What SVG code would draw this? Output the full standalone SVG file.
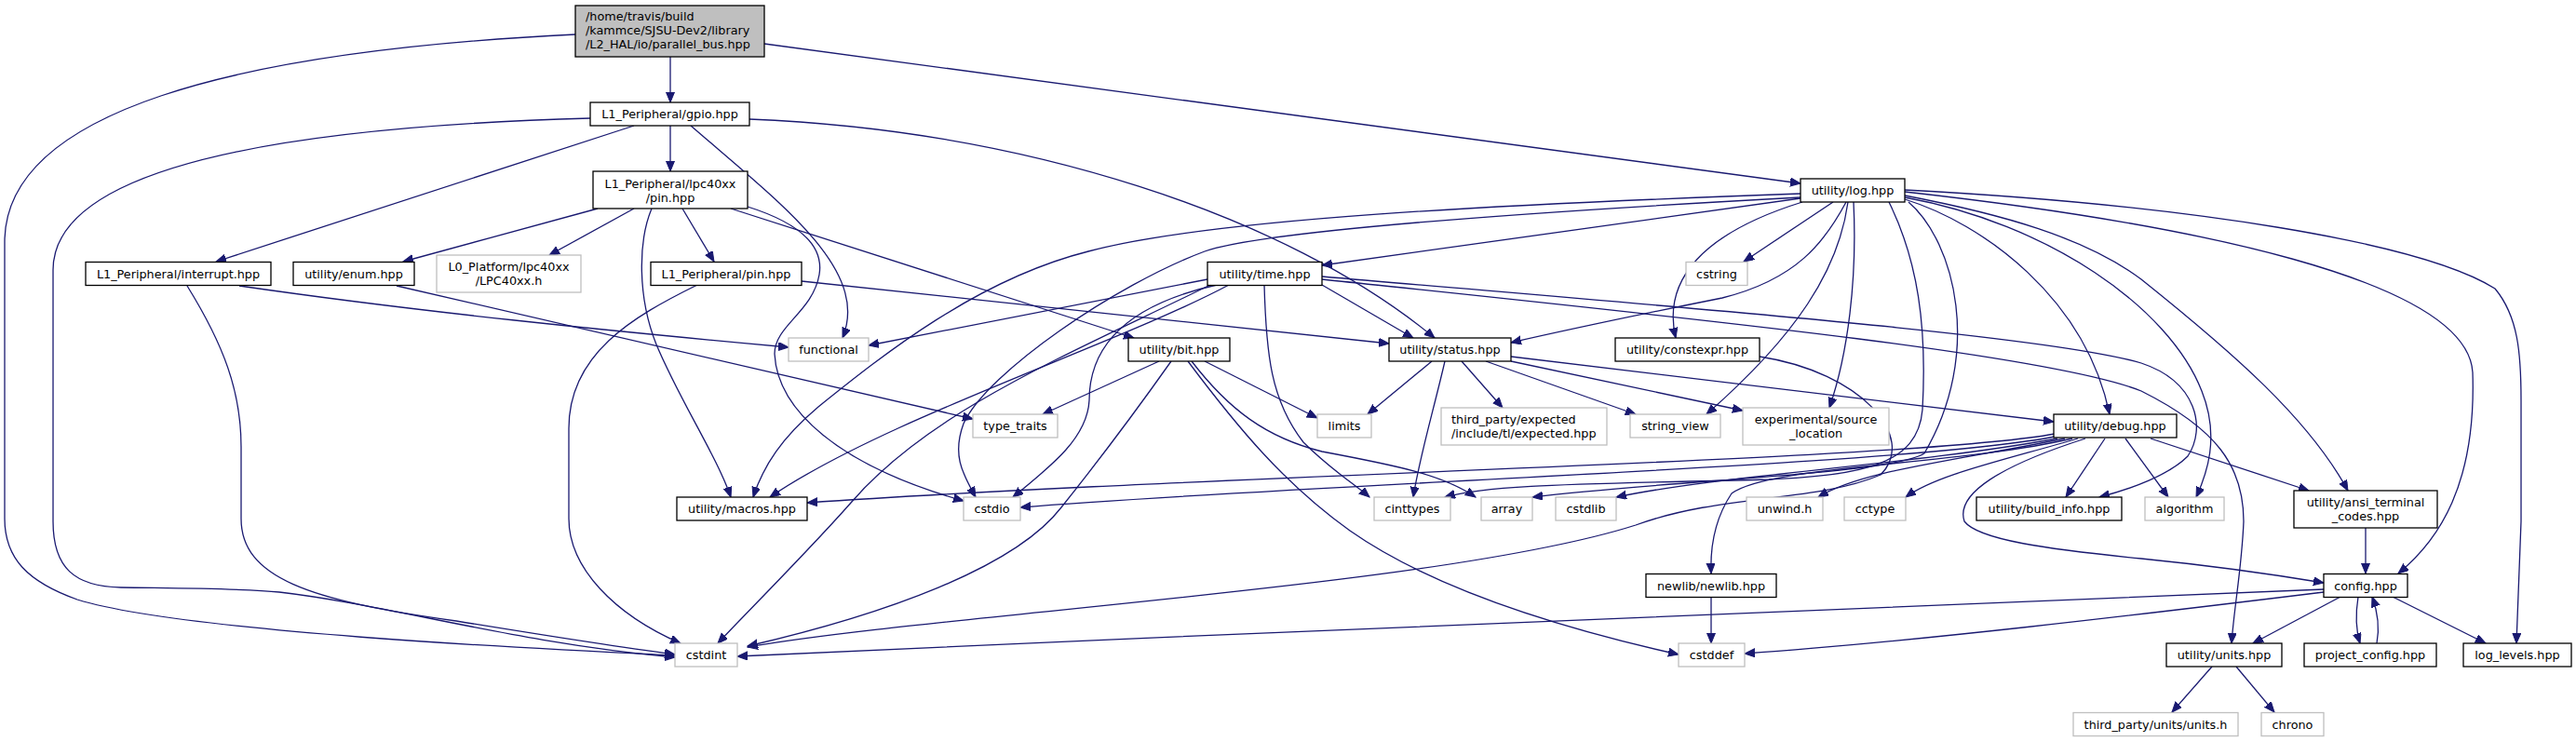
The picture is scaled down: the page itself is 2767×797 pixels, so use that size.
<svg xmlns="http://www.w3.org/2000/svg" width="2767" height="797" viewBox="0 0 2767 797">
<style>
.n rect{fill:#fff;stroke:#000;stroke-width:1.3}
.g rect{fill:#fff;stroke:#bfbfbf;stroke-width:1.3}
.r rect{fill:#bfbfbf;stroke:#000;stroke-width:1.3}
text{font-family:"DejaVu Sans","Liberation Sans",sans-serif;font-size:12.8px;fill:#000;text-anchor:middle}
text.l{text-anchor:start}
#edges path{fill:none;stroke:#191970;stroke-width:1.3;marker-end:url(#ah)}
</style>
<defs>
<marker id="ah" markerWidth="12" markerHeight="10" refX="11" refY="4.5" orient="auto" markerUnits="userSpaceOnUse"><path d="M0,0 L11,4.5 L0,9 z" fill="#191970" stroke="#191970" stroke-width="1"/></marker>
</defs>
<rect x="0" y="0" width="2767" height="797" fill="#fff"/>
<g id="edges">
<path d="M720,61 L720,110"/>
<path d="M821,47 L1934,197"/>
<path d="M618,37 C250,55 5,120 5,260 L5,557 C5,600 30,625 83,644 C200,680 600,698 725,704"/>
<path d="M720,135 L720,184"/>
<path d="M681,135 L232,281"/>
<path d="M742,135 C840,220 935,290 905,363"/>
<path d="M805,128 C1100,140 1380,230 1541,363"/>
<path d="M634,127 C350,135 57,170 57,290 L57,560 C57,610 80,630 130,631 C200,632 260,632 300,636 C420,650 550,690 725,706"/>
<path d="M642,224 L433,281"/>
<path d="M681,224 L590,274"/>
<path d="M700,224 C685,260 685,320 705,370 C730,430 770,490 785,534"/>
<path d="M733,224 L767,281"/>
<path d="M785,224 L1218,363"/>
<path d="M803,222 C860,240 885,265 880,295 C873,335 832,350 832,380 C835,440 900,500 1035,538"/>
<path d="M257,307 C450,335 650,355 847,373"/>
<path d="M201,307 C240,370 259,420 259,480 L259,557 C259,620 330,645 490,667 C600,685 680,697 725,703"/>
<path d="M426,307 L1045,450"/>
<path d="M861,302 L1492,369"/>
<path d="M749,306 C680,340 611,380 611,460 L611,557 C611,610 660,660 731,691"/>
<path d="M1297,300 L933,371"/>
<path d="M1320,306 C1200,370 950,450 827,534"/>
<path d="M1307,306 C1200,330 1170,380 1170,430 C1168,470 1130,500 1088,534"/>
<path d="M1300,306 C1150,380 1000,440 914,540 C870,590 800,660 771,691"/>
<path d="M1420,306 L1518,363"/>
<path d="M1358,306 C1360,380 1365,430 1400,475 C1430,505 1455,520 1471,534"/>
<path d="M1420,297 C1800,330 2200,360 2300,390 C2360,410 2370,460 2350,490 C2330,510 2290,525 2255,534"/>
<path d="M1420,300 C1800,340 2200,380 2300,420 C2380,460 2410,500 2410,560 C2408,610 2400,650 2397,691"/>
<path d="M1245,388 L1120,445"/>
<path d="M1294,388 L1415,449"/>
<path d="M1280,388 C1320,440 1360,470 1420,485 C1500,500 1550,510 1585,534"/>
<path d="M1276,388 C1330,460 1380,520 1450,570 C1550,640 1700,680 1803,703"/>
<path d="M1258,388 C1200,470 1160,520 1140,545 C1090,610 950,660 803,694"/>
<path d="M1538,388 L1469,445"/>
<path d="M1552,388 C1540,440 1525,490 1518,534"/>
<path d="M1570,388 L1614,438"/>
<path d="M1596,388 L1757,445"/>
<path d="M1623,388 L1872,441"/>
<path d="M1623,383 L2206,453"/>
<path d="M1934,213 L1420,285"/>
<path d="M1983,217 C1960,260 1930,300 1850,320 C1750,340 1680,355 1623,368"/>
<path d="M1936,217 C1830,250 1785,300 1800,363"/>
<path d="M1969,217 L1873,281"/>
<path d="M1985,217 C1975,290 1930,360 1833,445"/>
<path d="M1991,217 C1995,300 1985,380 1965,438"/>
<path d="M2046,214 C2130,240 2240,320 2266,445"/>
<path d="M2046,212 C2200,240 2330,330 2365,420 C2385,470 2370,510 2359,534"/>
<path d="M2046,210 C2150,230 2240,255 2300,300 C2400,380 2480,450 2522,527"/>
<path d="M2046,206 C2350,240 2650,300 2656,400 C2660,520 2620,580 2576,616"/>
<path d="M2046,204 C2350,220 2600,260 2680,310 C2705,340 2708,380 2708,430 L2708,560 C2706,620 2704,660 2703,691"/>
<path d="M1934,208 C1600,220 1300,235 1169,270 C1050,300 950,380 879,437 C840,470 820,500 809,534"/>
<path d="M1934,212 C1600,230 1350,250 1294,270 C1200,305 1060,400 1035,455 C1022,490 1035,510 1048,534"/>
<path d="M2029,217 C2060,280 2070,350 2065,440 C2060,500 2000,510 1900,515 C1700,520 1600,520 1552,534"/>
<path d="M2050,217 C2100,260 2130,380 2067,487 C2030,510 1800,515 1646,534"/>
<path d="M1890,383 C2000,400 2060,470 2020,510 C1950,540 1850,530 1757,564 C1550,630 1000,660 803,695"/>
<path d="M2207,466 C2050,495 1300,510 867,540"/>
<path d="M2207,469 C2050,500 1400,520 1096,545"/>
<path d="M2210,471 C2050,500 1850,510 1736,534"/>
<path d="M2218,471 C2100,495 2000,505 1953,534"/>
<path d="M2232,471 C2150,495 2080,510 2047,534"/>
<path d="M2261,471 L2219,534"/>
<path d="M2283,471 L2329,534"/>
<path d="M2310,471 L2480,527"/>
<path d="M2226,471 C2100,500 1900,500 1860,530 C1840,560 1837,590 1838,616"/>
<path d="M2240,471 C2150,500 2100,530 2110,560 C2125,580 2200,590 2300,600 C2400,610 2460,620 2496,626"/>
<path d="M2541,567 L2541,616"/>
<path d="M2514,641 L2420,691"/>
<path d="M2533,641 C2530,660 2530,675 2535,691"/>
<path d="M2553,691 C2556,675 2555,660 2548,641"/>
<path d="M2570,641 L2670,691"/>
<path d="M2496,633 C2100,648 1400,677 792,705"/>
<path d="M2496,636 C2300,660 2050,690 1874,702"/>
<path d="M1838,641 L1838,691"/>
<path d="M2376,716 L2333,765"/>
<path d="M2402,716 L2443,765"/>
</g>
<g id="root" class="r"><rect x="618" y="6" width="203" height="55"/><text class="l" x="629" y="21.5">/home/travis/build</text><text class="l" x="629" y="36.5">/kammce/SJSU-Dev2/library</text><text class="l" x="629" y="51.5">/L2_HAL/io/parallel_bus.hpp</text></g>
<g id="gpio" class="n"><rect x="634" y="110" width="171" height="25"/><text x="719.5" y="127">L1_Peripheral/gpio.hpp</text></g>
<g id="lpcpin" class="n"><rect x="637" y="184" width="166" height="40"/><text x="720" y="201.5">L1_Peripheral/lpc40xx</text><text x="720" y="216.5">/pin.hpp</text></g>
<g id="log" class="n"><rect x="1934" y="192" width="112" height="25"/><text x="1990" y="209">utility/log.hpp</text></g>
<g id="interrupt" class="n"><rect x="92" y="281.5" width="199" height="25"/><text x="191.5" y="298.5">L1_Peripheral/interrupt.hpp</text></g>
<g id="enum" class="n"><rect x="315" y="281.5" width="130" height="25"/><text x="380" y="298.5">utility/enum.hpp</text></g>
<g id="lpc40xxh" class="g"><rect x="469" y="274" width="155" height="40"/><text x="546.5" y="291">L0_Platform/lpc40xx</text><text x="546.5" y="306">/LPC40xx.h</text></g>
<g id="l1pin" class="n"><rect x="699" y="281.5" width="162" height="25"/><text x="780" y="298.5">L1_Peripheral/pin.hpp</text></g>
<g id="time" class="n"><rect x="1297" y="281.5" width="123" height="25"/><text x="1358.5" y="298.5">utility/time.hpp</text></g>
<g id="cstring" class="g"><rect x="1811" y="281.5" width="66" height="25"/><text x="1844" y="298.5">cstring</text></g>
<g id="functional" class="g"><rect x="847" y="363" width="86" height="25"/><text x="890" y="380">functional</text></g>
<g id="bit" class="n"><rect x="1212" y="363" width="109" height="25"/><text x="1266.5" y="380">utility/bit.hpp</text></g>
<g id="status" class="n"><rect x="1492" y="363" width="131" height="25"/><text x="1557.5" y="380">utility/status.hpp</text></g>
<g id="constexpr" class="n"><rect x="1735" y="363" width="155" height="25"/><text x="1812.5" y="380">utility/constexpr.hpp</text></g>
<g id="type_traits" class="g"><rect x="1045" y="445" width="91" height="25"/><text x="1090.5" y="462">type_traits</text></g>
<g id="limits" class="g"><rect x="1415" y="445" width="58" height="25"/><text x="1444" y="462">limits</text></g>
<g id="expected" class="g"><rect x="1548" y="438" width="178" height="40"/><text class="l" x="1559" y="455">third_party/expected</text><text class="l" x="1559" y="470">/include/tl/expected.hpp</text></g>
<g id="string_view" class="g"><rect x="1751" y="445" width="97" height="25"/><text x="1799.5" y="462">string_view</text></g>
<g id="source_location" class="g"><rect x="1872" y="438" width="157" height="40"/><text x="1950.5" y="455">experimental/source</text><text x="1950.5" y="470">_location</text></g>
<g id="debug" class="n"><rect x="2206" y="445" width="132" height="25"/><text x="2272" y="462">utility/debug.hpp</text></g>
<g id="macros" class="n"><rect x="727" y="534" width="140" height="25"/><text x="797" y="551">utility/macros.hpp</text></g>
<g id="cstdio" class="g"><rect x="1035" y="534" width="61" height="25"/><text x="1065.5" y="551">cstdio</text></g>
<g id="cinttypes" class="g"><rect x="1476" y="534" width="82" height="25"/><text x="1517" y="551">cinttypes</text></g>
<g id="array" class="g"><rect x="1591" y="534" width="55" height="25"/><text x="1618.5" y="551">array</text></g>
<g id="cstdlib" class="g"><rect x="1671" y="534" width="65" height="25"/><text x="1703.5" y="551">cstdlib</text></g>
<g id="unwind" class="g"><rect x="1876" y="534" width="82" height="25"/><text x="1917" y="551">unwind.h</text></g>
<g id="cctype" class="g"><rect x="1981" y="534" width="66" height="25"/><text x="2014" y="551">cctype</text></g>
<g id="build_info" class="n"><rect x="2123" y="534" width="156" height="25"/><text x="2201" y="551">utility/build_info.hpp</text></g>
<g id="algorithm" class="g"><rect x="2304" y="534" width="85" height="25"/><text x="2346.5" y="551">algorithm</text></g>
<g id="ansi" class="n"><rect x="2464" y="527" width="154" height="40"/><text x="2541" y="544">utility/ansi_terminal</text><text x="2541" y="559">_codes.hpp</text></g>
<g id="newlib" class="n"><rect x="1768" y="616.5" width="140" height="25"/><text x="1838" y="633.5">newlib/newlib.hpp</text></g>
<g id="config" class="n"><rect x="2496" y="616.5" width="90" height="25"/><text x="2541" y="633.5">config.hpp</text></g>
<g id="cstdint" class="g"><rect x="725" y="691" width="67" height="25"/><text x="758.5" y="708">cstdint</text></g>
<g id="cstddef" class="g"><rect x="1803" y="691" width="71" height="25"/><text x="1838.5" y="708">cstddef</text></g>
<g id="units" class="n"><rect x="2327" y="691" width="124" height="25"/><text x="2389" y="708">utility/units.hpp</text></g>
<g id="project_config" class="n"><rect x="2475" y="691" width="142" height="25"/><text x="2546" y="708">project_config.hpp</text></g>
<g id="log_levels" class="n"><rect x="2646" y="691" width="116" height="25"/><text x="2704" y="708">log_levels.hpp</text></g>
<g id="units_h" class="g"><rect x="2227" y="765.5" width="177" height="25"/><text x="2315.5" y="782.5">third_party/units/units.h</text></g>
<g id="chrono" class="g"><rect x="2429" y="765.5" width="67" height="25"/><text x="2462.5" y="782.5">chrono</text></g>
</svg>
